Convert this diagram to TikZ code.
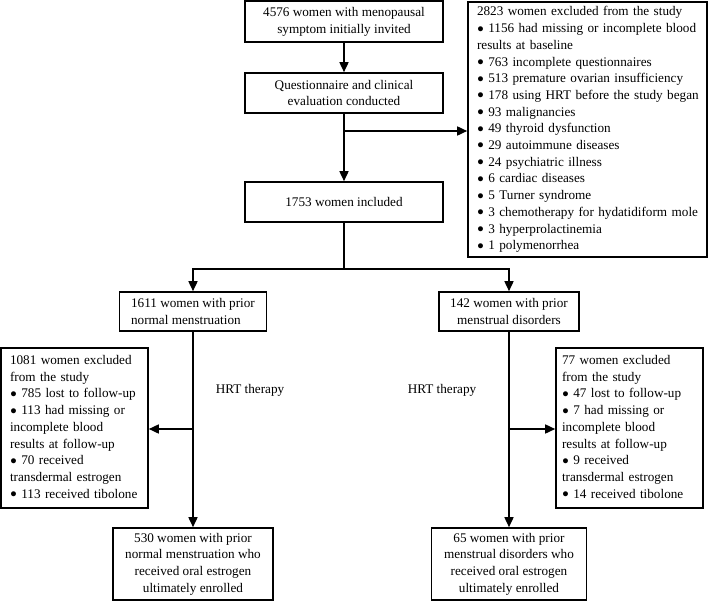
\documentclass[tikz,border=0pt]{standalone}
\usepackage{fontspec}
\setmainfont{Liberation Serif}
\usetikzlibrary{arrows.meta}
\newcommand\exlines[1]{\begin{tabular}{@{}l@{}}#1\end{tabular}}
\newcommand\bul{\raisebox{0.6pt}{\fontsize{11.5}{11}\selectfont ●}\ }
\begin{document}
\begin{tikzpicture}[x=1pt,y=-1pt,
  font=\fontsize{13.2}{16.7}\selectfont,
  box/.style={draw, line width=1.6pt, inner sep=0pt, align=center},
  exbox/.style={draw, line width=1.6pt, inner xsep=9pt, inner ysep=0pt, align=left},
  arr/.style={line width=1.6pt, -{Triangle[length=10pt,width=9pt]}},
  ln/.style={line width=1.6pt}]
\useasboundingbox (0,0) rectangle (709,602);

\node[box, minimum width=198pt, minimum height=41pt] (b1) at (344,21.5)
  {4576 women with menopausal\\symptom initially invited};
\node[box, minimum width=198pt, minimum height=40pt] (b2) at (344,93)
  {Questionnaire and clinical\\evaluation conducted};
\node[box, minimum width=198pt, minimum height=40pt] (b3) at (344,202)
  {1753 women included};

\node[exbox, minimum width=239pt, minimum height=255pt, text width=221pt] (ex1) at (587.5,129.5)
  {\exlines{2823 women excluded from the study\\
  \bul 1156 had missing or incomplete blood\\
  results at baseline\\
  \bul 763 incomplete questionnaires\\
  \bul 513 premature ovarian insufficiency\\
  \bul 178 using HRT before the study began\\
  \bul 93 malignancies\\
  \bul 49 thyroid dysfunction\\
  \bul 29 autoimmune diseases\\
  \bul 24 psychiatric illness\\
  \bul 6 cardiac diseases\\
  \bul 5 Turner syndrome\\
  \bul 3 chemotherapy for hydatidiform mole\\
  \bul 3 hyperprolactinemia\\
  \bul 1 polymenorrhea}};

\node[box, align=left, minimum width=147pt, minimum height=39pt] (b4) at (193,311.5)
  {1611 women with prior\\normal menstruation};
\node[box, minimum width=140pt, minimum height=39pt] (b5) at (509,311.5)
  {142 women with prior\\menstrual disorders};

\node[exbox, minimum width=147pt, minimum height=160pt, text width=129pt] (ex2) at (74.5,428)
  {\exlines{1081 women excluded\\
  from the study\\
  \bul 785 lost to follow-up\\
  \bul 113 had missing or\\
  incomplete blood\\
  results at follow-up\\
  \bul 70 received\\
  transdermal estrogen\\
  \bul 113 received tibolone}};
\node[exbox, inner xsep=6pt, minimum width=147pt, minimum height=160pt, text width=135pt] (ex3) at (629.5,428)
  {\exlines{77 women excluded\\
  from the study\\
  \bul 47 lost to follow-up\\
  \bul 7 had missing or\\
  incomplete blood\\
  results at follow-up\\
  \bul 9 received\\
  transdermal estrogen\\
  \bul 14 received tibolone}};

\node[box, minimum width=160pt, minimum height=72pt] (b6) at (193,564)
  {530 women with prior\\normal menstruation who\\received oral estrogen\\ultimately enrolled};
\node[box, minimum width=155pt, minimum height=72pt] (b7) at (509,564)
  {65 women with prior\\menstrual disorders who\\received oral estrogen\\ultimately enrolled};

\node (hl) at (250,390) {HRT therapy};
\node (hr) at (442,390) {HRT therapy};

\coordinate (j1) at (344,131);
\coordinate (j2) at (344,269);
\coordinate (j3) at (193,429);
\coordinate (j4) at (509,429);

\draw[arr] (b1) -- (b2);
\draw[arr] (b2) -- (b3);
\draw[arr] (j1) -- (j1 -| ex1.west);
\draw[ln] (b3) -- (j2);
\draw[arr] (j2) -| (b4.north);
\draw[arr] (j2) -| (b5.north);
\draw[arr] (b4) -- (b6);
\draw[arr] (b5) -- (b7);
\draw[arr] (j3) -- (j3 -| ex2.east);
\draw[arr] (j4) -- (j4 -| ex3.west);
\end{tikzpicture}
\end{document}
